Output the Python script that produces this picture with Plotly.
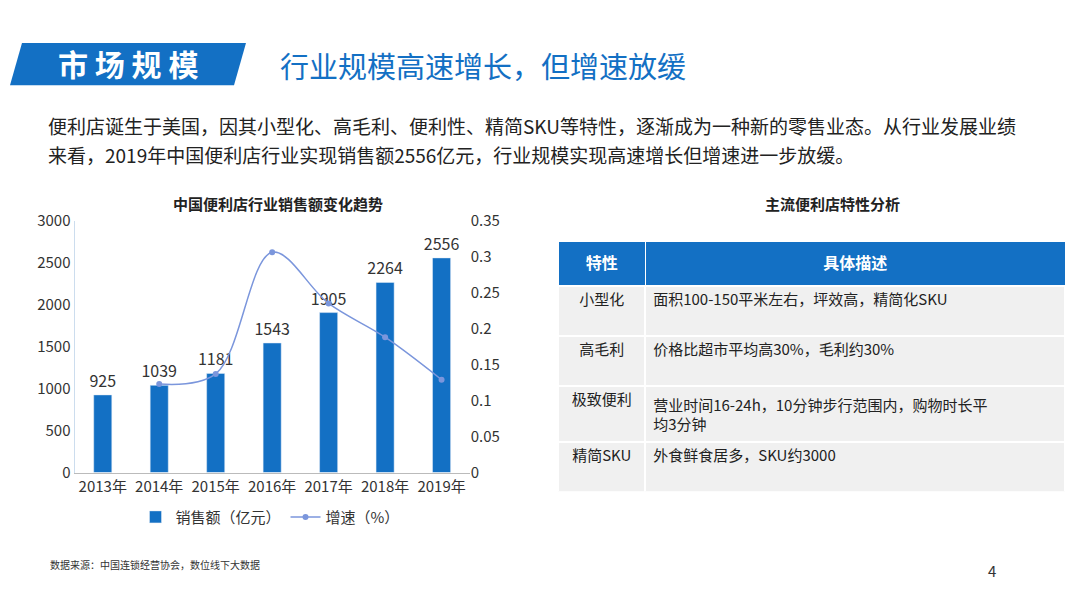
import plotly.graph_objects as go

years = ["2013年", "2014年", "2015年", "2016年", "2017年", "2018年", "2019年"]
sales = [925, 1039, 1181, 1543, 1905, 2264, 2556]
growth = [None, 0.123, 0.137, 0.306, 0.235, 0.188, 0.129]

traits = ["小型化", "高毛利", "极致便利", "精简SKU"]
descs = ["面积100-150平米左右，坪效高，精简化SKU",
         "价格比超市平均高30%，毛利约30%",
         "营业时间16-24h，10分钟步行范围内，购物时长平<br>均3分钟",
         "外食鲜食居多，SKU约3000"]

BLUE = "#1370c4"
FONT = "Noto Sans CJK SC"

fig = go.Figure()
fig.add_trace(go.Bar(x=years, y=sales, name="销售额（亿元）", marker_color=BLUE, width=0.32,
                     text=sales, textposition="outside", textfont=dict(size=16, color="#333"),
                     constraintext="none", cliponaxis=False))
fig.add_trace(go.Scatter(x=years, y=growth, name="增速（%）", yaxis="y2", mode="lines+markers",
                         line=dict(color="#7b96dc", width=1.5, shape="spline"),
                         marker=dict(size=6, color="#7b96dc")))

fig.add_trace(go.Table(
    domain=dict(x=[0.517, 0.987], y=[0.18, 0.608]),
    columnwidth=[87, 421],
    header=dict(values=["<b>特性</b>", "<b>具体描述</b>"], fill_color=BLUE, height=44,
                line_color="white", align="center", font=dict(color="white", size=16, family=FONT)),
    cells=dict(values=[traits, descs], fill_color="#f0f0f0", line_color="white", line_width=2,
               height=50, align=["center", "left"], font=dict(color="#222", size=15, family=FONT)),
))

fig.update_layout(
    autosize=True, margin=dict(l=0, r=0, t=0, b=0),
    paper_bgcolor="white", plot_bgcolor="white", font=dict(family=FONT, color="#333"),
    xaxis=dict(domain=[0.069, 0.435], showline=True, linecolor="#bbb", tickfont=dict(size=15)),
    yaxis=dict(domain=[0.214, 0.644], range=[0, 3000], dtick=500, showgrid=False,
               showline=True, linecolor="#cde", tickfont=dict(size=15), ticks=""),
    yaxis2=dict(overlaying="y", side="right", range=[0, 0.35], dtick=0.05, showgrid=False,
                tickfont=dict(size=15), anchor="x"),
    legend=dict(orientation="h", x=0.25, y=0.138, xanchor="center", yanchor="middle",
                font=dict(size=15)),
    bargap=0.6,
)


def px(x, y):
    return x / 1080, 1 - y / 607


# 标题色块
pts = [px(22, 32), px(246, 32), px(234, 76), px(10, 76)]
fig.add_shape(type="path", xref="paper", yref="paper", fillcolor=BLUE, line_width=0,
              path="M " + " L ".join(f"{a} {b}" for a, b in pts) + " Z")


def txt(x, y, s, size, color="#222", anchor="left", bold=False):
    ax, ay = px(x, y)
    fig.add_annotation(x=ax, y=ay, xref="paper", yref="paper", text=f"<b>{s}</b>" if bold else s,
                       showarrow=False, xanchor=anchor, yanchor="middle",
                       font=dict(size=size, color=color, family=FONT))


txt(128, 53, "市 场 规 模", 30, "white", "center", True)
txt(278, 55, "行业规模高速增长，但增速放缓", 29, BLUE)
txt(46, 118, "便利店诞生于美国，因其小型化、高毛利、便利性、精简SKU等特性，逐渐成为一种新的零售业态。从行业发展业绩", 19)
txt(46, 148, "来看，2019年中国便利店行业实现销售额2556亿元，行业规模实现高速增长但增速进一步放缓。", 19)
txt(278, 198, "中国便利店行业销售额变化趋势", 15, "#222", "center", True)
txt(832, 198, "主流便利店特性分析", 15, "#222", "center", True)
txt(48, 572, "数据来源：中国连锁经营协会，数位线下大数据", 10, "#333")
txt(992, 578, "4", 15, "#333", "center")

fig.write_html("out.html", default_width="100vw", default_height="100vh",
               config={"displayModeBar": False},
               post_script="document.body.style.margin='0';document.body.style.overflow='hidden';")
